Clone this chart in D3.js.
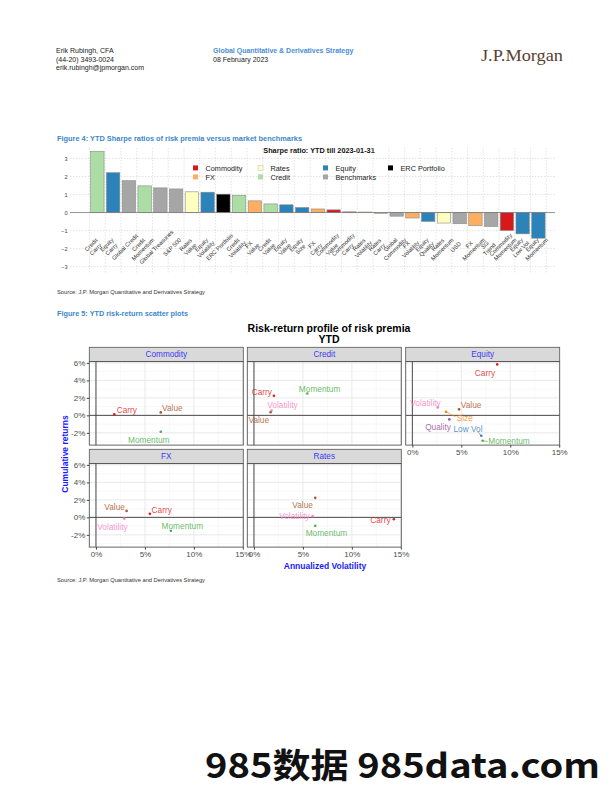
<!DOCTYPE html>
<html><head><meta charset="utf-8">
<script src="https://cdn.jsdelivr.net/npm/d3@7"></script>
<style>
html,body{margin:0;padding:0;background:#fff;}
svg{display:block;font-family:"Liberation Sans",Arial,sans-serif;}
</style></head>
<body><svg id="page" width="612" height="792"></svg>
<script>
// ---------------- DATA ----------------
const barCategories = ["Credit\nCarry","Equity\nCarry","Global Credit","Credit\nMomentum","Global Treasuries","S&P 500","Rates\nValue","Equity\nVolatility","ERC Portfolio","Credit\nVolatility","FX\nValue","Credit\nValue","Equity\nValue","Equity\nSize","FX\nCarry","Commodity\nValue","Commodity\nCarry","Rates\nVolatility","Rates\nCarry","Global\nCommodity","FX\nVolatility","Equity\nQuality","Rates\nMomentum","USD","FX\nMomentum","SG\nTrend","Commodity\nMomentum","Equity\nLow Vol","Equity\nMomentum"];
const barGroups = ["Credit","Equity","Benchmarks","Credit","Benchmarks","Benchmarks","Rates","Equity","ERC Portfolio","Credit","FX","Credit","Equity","Equity","FX","Commodity","Commodity","Rates","Rates","Benchmarks","FX","Equity","Rates","Benchmarks","FX","Benchmarks","Commodity","Equity","Equity"];
const barValues = [3.40,2.21,1.77,1.48,1.37,1.31,1.15,1.13,1.02,0.96,0.65,0.48,0.43,0.28,0.20,0.15,0.04,0.03,-0.05,-0.20,-0.30,-0.49,-0.58,-0.62,-0.73,-0.77,-0.99,-1.18,-1.42];
const barTicks = [-3,-2,-1,0,1,2,3];
const legendOrder = ["Commodity","FX","Rates","Credit","Equity","Benchmarks","ERC Portfolio"];

const scatterPanels = ["Commodity","Credit","Equity","FX","Rates"];
const pointPanel   = ["Commodity","Commodity","Commodity","Credit","Credit","Credit","Credit","Equity","Equity","Equity","Equity","Equity","Equity","Equity","FX","FX","FX","FX","Rates","Rates","Rates","Rates"];
const pointPremium = ["Carry","Value","Momentum","Carry","Momentum","Volatility","Value","Carry","Value","Volatility","Size","Quality","Low Vol","Momentum","Value","Carry","Volatility","Momentum","Value","Volatility","Carry","Momentum"];
const pointVol     = [1.87,6.62,6.62,2.04,5.45,1.80,1.70,8.67,4.77,2.59,3.44,3.78,7.04,7.18,3.13,5.51,2.89,7.65,6.26,5.99,14.29,6.26];
const pointRet     = [0.11,0.34,-1.87,2.24,2.51,0.55,0.35,5.83,0.69,0.91,0.41,-0.46,-2.33,-2.90,0.74,0.40,-0.14,-1.54,2.23,0.14,-0.21,-0.97];
const xTicks = [0,5,10,15];
const yTicks = [-2,0,2,4,6];

// ---------------- STYLES / LAYOUT ----------------
const groupColors = {"Commodity":"#d7191c","FX":"#fdae61","Rates":"#ffffbf","Credit":"#abdda4","Equity":"#2b83ba","Benchmarks":"#a6a6a6","ERC Portfolio":"#000000"};
const premiumColors = {"Carry":"#E41A1C","Low Vol":"#377EB8","Momentum":"#4DAF4A","Quality":"#984EA3","Size":"#FF7F00","Value":"#A65628","Volatility":"#F781BF"};
// label placement relative to point (px): dx, dy, anchor, optional segment end
const labelPlace = {
 "Commodity|Carry":[2.4,-4.3,"start"],"Commodity|Value":[1.3,-4.3,"start"],"Commodity|Momentum":[-12,8.3,"middle"],
 "Credit|Carry":[-2,-4,"end"],"Credit|Momentum":[12.3,-4,"middle"],"Credit|Volatility":[-4.3,-5,"start"],"Credit|Value":[-1.5,8,"end"],
 "Equity|Carry":[-12.3,8.4,"middle"],"Equity|Value":[1.7,-4.3,"start"],"Equity|Volatility":[-12.2,-4.8,"middle"],
 "Equity|Size":[10.7,6,"start",[9.5,5]],"Equity|Quality":[-11.3,7.7,"middle"],"Equity|Low Vol":[-13.3,-6.4,"middle",[-3,-3.5]],
 "Equity|Momentum":[5.6,0.8,"start",[5,0.8]],
 "FX|Value":[-1.7,-4.3,"end"],"FX|Carry":[1.7,-4,"start"],"FX|Volatility":[-11.8,8,"middle"],"FX|Momentum":[11.5,-4.3,"middle"],
 "Rates|Value":[-2.3,7,"end"],"Rates|Volatility":[-3,0.4,"end"],"Rates|Carry":[-3.3,0.7,"end"],"Rates|Momentum":[11.2,7,"middle"]
};

const svg = d3.select("#page");
const FONT = "'Liberation Sans',Arial,sans-serif";

// ---------------- HEADER ----------------
const hdr = svg.append("g").attr("font-size",7).attr("fill","#222");
["Erik Rubingh, CFA","(44-20) 3493-0024","erik.rubingh@jpmorgan.com"].forEach((t,i)=>
  hdr.append("text").attr("x",56).attr("y",53+i*8.5).text(t));
hdr.append("text").attr("x",213).attr("y",53).attr("fill","#4a8ed6").attr("font-weight","bold").text("Global Quantitative & Derivatives Strategy");
hdr.append("text").attr("x",213).attr("y",61.5).text("08 February 2023");
svg.append("text").attr("x",481).attr("y",61).attr("font-family","'Liberation Serif','Times New Roman',serif")
  .attr("font-size",16.5).attr("fill","#5a4230").attr("textLength",82).attr("lengthAdjust","spacingAndGlyphs").text("J.P.Morgan");

// ---------------- FIGURE 4 ----------------
svg.append("text").attr("x",57).attr("y",140.5).attr("font-size",7.4).attr("font-weight","bold").attr("fill","#3d87cc")
  .attr("textLength",245).attr("lengthAdjust","spacingAndGlyphs").text("Figure 4: YTD Sharpe ratios of risk premia versus market benchmarks");
svg.append("text").attr("x",319).attr("y",153).attr("text-anchor","middle").attr("font-size",7.3).attr("font-weight","bold").attr("fill","#111")
  .text("Sharpe ratio: YTD till 2023-01-31");

const bx = d3.scaleBand().domain(d3.range(barValues.length)).range([89.5,546.3]).paddingInner(0.15).paddingOuter(0.075);
const by = d3.scaleLinear().domain([-3.35,3.58]).range([273,148]);
const bg = svg.append("g");
// gridlines
const bnds = d3.range(barValues.length+1).map(i=> 89.5 + i*(546.3-89.5)/barValues.length);
bg.selectAll("line.v").data(bnds).join("line").attr("x1",d=>d).attr("x2",d=>d).attr("y1",148).attr("y2",273)
  .attr("stroke","#d4d4d4").attr("stroke-width",0.6).attr("stroke-dasharray","1.5,1.5");
bg.selectAll("line.h").data(barTicks.filter(d=>d!==0)).join("line").attr("x1",70).attr("x2",555).attr("y1",d=>by(d)).attr("y2",d=>by(d))
  .attr("stroke","#cfcfcf").attr("stroke-width",0.6).attr("stroke-dasharray","1.5,1.5");
// y axis labels
const yAx = d3.axisLeft(by).tickValues(barTicks).tickSize(0).tickPadding(0).tickFormat(d3.format("d"));
const yg = bg.append("g").attr("transform","translate(67.5,0)").call(yAx);
yg.select(".domain").remove();
yg.selectAll("text").attr("font-size",5.6).attr("fill","#444").attr("font-family",FONT);
// bars
bg.selectAll("rect.bar").data(barValues).join("rect")
  .attr("x",(d,i)=>bx(i)).attr("width",bx.bandwidth())
  .attr("y",d=>by(Math.max(0,d))).attr("height",d=>Math.max(0.4,Math.abs(by(d)-by(0))))
  .attr("fill",(d,i)=>groupColors[barGroups[i]]).attr("stroke","#8a8a8a").attr("stroke-width",0.6);
// zero line
bg.append("line").attr("x1",70).attr("x2",555).attr("y1",by(0)).attr("y2",by(0)).attr("stroke","#777").attr("stroke-width",0.8);
// category labels
barCategories.forEach((c,i)=>{
  const lines = c.split("\n");
  const cx = bx(i)+bx.bandwidth()/2 - 4, cy = 247;
  const t = bg.append("text").attr("transform",`translate(${cx},${cy}) rotate(-45)`).attr("text-anchor","middle")
    .attr("font-size",5.8).attr("fill","#333");
  lines.forEach((l,j)=>{
    t.append("tspan").attr("x",0).attr("y",(j-(lines.length-1)/2)*6.4).attr("dy","0.35em").text(l);
  });
});
// legend
const legCols=[193,258,323,388], legRows=[168,177];
legendOrder.forEach((g,i)=>{
  const col=Math.floor(i/2), row=i%2;
  const x=legCols[col], y=legRows[row];
  bg.append("rect").attr("x",x).attr("y",y-2.6).attr("width",5).attr("height",5).attr("fill",groupColors[g])
    .attr("stroke",g==="Rates"?"#bbb":"none").attr("stroke-width",0.5);
  bg.append("text").attr("x",x+12.5).attr("y",y).attr("dy","0.35em").attr("font-size",7.3).attr("fill","#222").text(g);
});
svg.append("text").attr("x",57).attr("y",294).attr("font-size",5.4).attr("fill","#333")
  .attr("textLength",148).attr("lengthAdjust","spacingAndGlyphs").text("Source: J.P. Morgan Quantitative and Derivatives Strategy");

// ---------------- FIGURE 5 ----------------
svg.append("text").attr("x",57).attr("y",316).attr("font-size",7.4).attr("font-weight","bold").attr("fill","#3d87cc")
  .attr("textLength",131).attr("lengthAdjust","spacingAndGlyphs").text("Figure 5: YTD risk-return scatter plots");
svg.append("text").attr("x",329).attr("y",332).attr("text-anchor","middle").attr("font-size",10.5).attr("font-weight","bold").attr("fill","#000").text("Risk-return profile of risk premia");
svg.append("text").attr("x",329).attr("y",343).attr("text-anchor","middle").attr("font-size",10.5).attr("font-weight","bold").attr("fill","#000").text("YTD");

const colX = [89.3,247.3,405.7], panelW = 154;
const rowStrip = [347.3,449.3], stripH = 14.3, panelH = 83.5;
const g5 = svg.append("g");
scatterPanels.forEach((p,pi)=>{
  const col = pi%3, row = Math.floor(pi/3);
  const x0 = colX[col], sTop = rowStrip[row], pTop = sTop+stripH;
  const xs = d3.scaleLinear().domain([-0.68,15.05]).range([x0,x0+panelW]);
  const ys = d3.scaleLinear().domain([-3.4,6.15]).range([pTop+panelH,pTop]);
  const g = g5.append("g");
  g.append("rect").attr("x",x0).attr("y",pTop).attr("width",panelW).attr("height",panelH).attr("fill","#fff");
  // minor grid
  const xMinor=[2.5,7.5,12.5], yMinor=[-3,-1,1,3,5];
  g.selectAll("line.xm").data(xMinor).join("line").attr("x1",d=>xs(d)).attr("x2",d=>xs(d)).attr("y1",pTop).attr("y2",pTop+panelH).attr("stroke","#f3f3f3").attr("stroke-width",0.6);
  g.selectAll("line.ym").data(yMinor).join("line").attr("y1",d=>ys(d)).attr("y2",d=>ys(d)).attr("x1",x0).attr("x2",x0+panelW).attr("stroke","#f3f3f3").attr("stroke-width",0.6);
  g.selectAll("line.xg").data(xTicks).join("line").attr("x1",d=>xs(d)).attr("x2",d=>xs(d)).attr("y1",pTop).attr("y2",pTop+panelH).attr("stroke","#e6e6e6").attr("stroke-width",0.9);
  g.selectAll("line.yg").data(yTicks).join("line").attr("y1",d=>ys(d)).attr("y2",d=>ys(d)).attr("x1",x0).attr("x2",x0+panelW).attr("stroke","#e6e6e6").attr("stroke-width",0.9);
  // zero lines
  g.append("line").attr("x1",xs(0)).attr("x2",xs(0)).attr("y1",pTop).attr("y2",pTop+panelH).attr("stroke","#3a3a3a").attr("stroke-width",0.9);
  g.append("line").attr("x1",x0).attr("x2",x0+panelW).attr("y1",ys(0)).attr("y2",ys(0)).attr("stroke","#3a3a3a").attr("stroke-width",0.9);
  // strip
  g.append("rect").attr("x",x0).attr("y",sTop).attr("width",panelW).attr("height",stripH).attr("fill","#d9d9d9").attr("stroke","#555").attr("stroke-width",0.8);
  g.append("text").attr("x",x0+panelW/2).attr("y",sTop+stripH/2).attr("dy","0.35em").attr("text-anchor","middle")
    .attr("font-size",8.2).attr("fill","#3b3bf5").text(p);
  // points & labels
  pointPanel.forEach((pp,k)=>{
    if(pp!==p) return;
    const pr = pointPremium[k], c = premiumColors[pr];
    const px = xs(pointVol[k]), py = ys(pointRet[k]);
    const lp = labelPlace[p+"|"+pr];
    if(lp[3]) g.append("line").attr("x1",px).attr("y1",py).attr("x2",px+lp[3][0]).attr("y2",py+lp[3][1]).attr("stroke",c).attr("stroke-width",0.6);
    g.append("circle").attr("cx",px).attr("cy",py).attr("r",1.3).attr("fill",c);
    g.append("text").attr("x",px+lp[0]).attr("y",py+lp[1]).attr("dy","0.35em").attr("text-anchor",lp[2])
      .attr("font-size",8.3).attr("fill",c).attr("fill-opacity",0.85).text(pr);
  });
  // border
  g.append("rect").attr("x",x0).attr("y",pTop).attr("width",panelW).attr("height",panelH).attr("fill","none").attr("stroke","#555").attr("stroke-width",0.9);
  // y axis (left column)
  if(col===0){
    const ya = g.append("g").attr("transform",`translate(${x0},0)`).call(d3.axisLeft(ys).tickValues(yTicks).tickSize(2.5).tickPadding(1.5).tickFormat(d=>d+"%"));
    ya.select(".domain").remove();
    ya.selectAll("line").attr("stroke","#444");
    ya.selectAll("text").attr("font-size",8).attr("fill","#4d4d4d").attr("font-family",FONT);
  }
  // x axis (bottom-most panel in each column)
  if(row===1 || col===2){
    const xa = g.append("g").attr("transform",`translate(0,${pTop+panelH})`).call(d3.axisBottom(xs).tickValues(xTicks).tickSize(2.5).tickPadding(1.5).tickFormat(d=>d+"%"));
    xa.select(".domain").remove();
    xa.selectAll("line").attr("stroke","#444");
    xa.selectAll("text").attr("font-size",8).attr("fill","#4d4d4d").attr("font-family",FONT);
  }
});
svg.append("text").attr("transform","translate(68,454) rotate(-90)").attr("text-anchor","middle").attr("font-size",8.5)
  .attr("font-weight","bold").attr("fill","#1a1aff").text("Cumulative returns");
svg.append("text").attr("x",325).attr("y",569).attr("text-anchor","middle").attr("font-size",8.5)
  .attr("font-weight","bold").attr("fill","#1a1aff").text("Annualized Volatility");
svg.append("text").attr("x",57).attr("y",582).attr("font-size",5.4).attr("fill","#333")
  .attr("textLength",148).attr("lengthAdjust","spacingAndGlyphs").text("Source: J.P. Morgan Quantitative and Derivatives Strategy");

// ---------------- WATERMARK ----------------
svg.append("text").attr("x",205).attr("y",778).attr("font-family","'Noto Sans CJK SC','Noto Sans',sans-serif")
  .attr("font-size",34).attr("font-weight","bold").attr("fill","#111").attr("textLength",395).attr("lengthAdjust","spacingAndGlyphs").text("985数据 985data.com");
</script>
</body></html>
